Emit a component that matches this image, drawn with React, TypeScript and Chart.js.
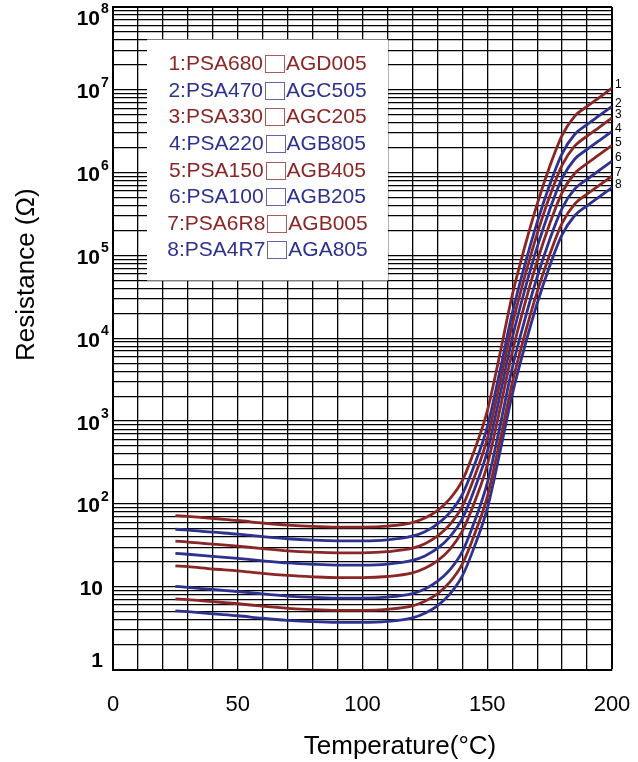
import React, { useEffect, useRef } from "react";
import { Chart, registerables } from "chart.js";

Chart.register(...registerables);

// ---------- data ----------
const temperatures = [25, 30, 40, 50, 60, 70, 80, 90, 100, 110, 120, 125, 130, 135, 140, 145, 150, 155, 160, 165, 170, 175, 180, 185, 190, 195, 200];

const r1 = [72.4, 70.8, 66.7, 63.1, 58.9, 55.6, 53.5, 52.5, 52.5, 54.0, 59.6, 67.6, 83.2, 115, 191, 457, 1320, 6310, 33100, 126000, 417000, 1180000, 2820000, 4790000, 6310000, 8130000, 10500000];
const r2 = [49.5, 48.4, 45.6, 43.2, 40.3, 38.0, 36.6, 35.9, 35.9, 36.9, 40.8, 46.2, 56.9, 78.5, 130, 303, 846, 3930, 20000, 75900, 251000, 709000, 1700000, 2890000, 3810000, 4900000, 6310000];
const r3 = [35.5, 34.7, 32.7, 30.9, 28.9, 27.2, 26.2, 25.7, 25.7, 26.5, 29.2, 33.1, 40.8, 56.3, 93.3, 218, 609, 2830, 14500, 55000, 182000, 514000, 1230000, 2090000, 2760000, 3550000, 4580000];
const r4 = [25.3, 24.7, 23.3, 22.0, 20.6, 19.4, 18.7, 18.3, 18.3, 18.8, 20.8, 23.6, 29.0, 40.1, 66.5, 154, 428, 1980, 10000, 38000, 126000, 355000, 851000, 1450000, 1910000, 2460000, 3160000];
const r5 = [17.9, 17.5, 16.4, 15.6, 14.5, 13.7, 13.2, 12.9, 12.9, 13.3, 14.7, 16.7, 20.5, 28.3, 47.0, 107, 295, 1350, 6760, 25700, 85100, 240000, 575000, 976000, 1290000, 1660000, 2140000];
const r6 = [10.1, 9.84, 9.27, 8.77, 8.19, 7.73, 7.44, 7.30, 7.30, 7.51, 8.28, 9.40, 11.6, 16.0, 26.5, 62.6, 178, 844, 4360, 16600, 55000, 155000, 371000, 631000, 832000, 1070000, 1380000];
const r7 = [7.16, 7.00, 6.60, 6.24, 5.83, 5.50, 5.29, 5.19, 5.19, 5.34, 5.89, 6.69, 8.23, 11.4, 18.8, 43.7, 122, 567, 2880, 11000, 36300, 102000, 245000, 417000, 550000, 708000, 912000];
const r8 = [5.13, 5.01, 4.72, 4.47, 4.17, 3.94, 3.79, 3.72, 3.72, 3.82, 4.22, 4.79, 5.89, 8.13, 13.5, 31.4, 88.0, 410, 2090, 7940, 26300, 74100, 178000, 302000, 398000, 513000, 661000];

const seriesValues = [r1, r2, r3, r4, r5, r6, r7, r8];

const seriesNames = [
  "1:PSA680□AGD005",
  "2:PSA470□AGC505",
  "3:PSA330□AGC205",
  "4:PSA220□AGB805",
  "5:PSA150□AGB405",
  "6:PSA100□AGB205",
  "7:PSA6R8□AGB005",
  "8:PSA4R7□AGA805",
];
const curveNumbers = ["1", "2", "3", "4", "5", "6", "7", "8"];

const xTickValues = [0, 50, 100, 150, 200];
const xTickLabels = ["0", "50", "100", "150", "200"];
const yDecadeExponents = [0, 1, 2, 3, 4, 5, 6, 7, 8];
const yMinorMultipliers = [1, 2, 3, 4, 5, 6, 7, 8, 9];

const xTitle = "Temperature(°C)";
const yTitle = "Resistance (Ω)";

// ---------- styles ----------
const RED = "#8a2626";
const BLUE = "#2e3190";
const FONT = '"Liberation Sans", Arial, Helvetica, sans-serif';

const yGridValues: number[] = [];
yDecadeExponents.forEach((e) => {
  if (e === yDecadeExponents[yDecadeExponents.length - 1]) {
    yGridValues.push(Math.pow(10, e));
  } else {
    yMinorMultipliers.forEach((m) => yGridValues.push(m * Math.pow(10, e)));
  }
});

const overlayPlugin = {
  id: "overlay",
  afterDraw(chart: any) {
    const { ctx, chartArea: a, scales } = chart;
    const ys = scales.y;
    ctx.save();

    // legend box
    const bx = a.left + 34;
    const by = a.top + 32.5;
    const bw = 241;
    const bh = 241;
    ctx.fillStyle = "#ffffff";
    ctx.fillRect(bx, by, bw, bh);
    ctx.font = `21px ${FONT}`;
    ctx.textBaseline = "alphabetic";
    ctx.textAlign = "left";
    const cx = bx + bw / 2;
    seriesNames.forEach((name, i) => {
      const color = i % 2 === 0 ? RED : BLUE;
      const [pre, post] = name.split("□");
      const wPre = ctx.measureText(pre).width;
      const wPost = ctx.measureText(post).width;
      const boxW = 19;
      const gap = 2;
      const total = wPre + gap + boxW + gap + wPost;
      const cy = by + 23.3 + i * 26.55;
      let x = cx - total / 2;
      ctx.fillStyle = color;
      ctx.fillText(pre, x, cy + 7.5);
      x += wPre + gap;
      ctx.strokeStyle = color;
      ctx.globalAlpha = 0.75;
      ctx.lineWidth = 1;
      ctx.strokeRect(Math.round(x) + 0.5, Math.round(cy - 7.5) + 0.5, boxW, 17);
      ctx.globalAlpha = 1;
      x += boxW + gap;
      ctx.fillText(post, x, cy + 7.5);
    });

    // y tick labels (10 with superscript exponent)
    ctx.fillStyle = "#000";
    yDecadeExponents.forEach((e) => {
      let y = ys.getPixelForValue(Math.pow(10, e)) + 1;
      y = Math.min(Math.max(y, a.top + 10), a.bottom - 10);
      const base = y + 7.5;
      ctx.font = `bold 21px ${FONT}`;
      if (e === 0) {
        ctx.textAlign = "right";
        ctx.fillText("1", a.left - 10, base);
      } else if (e === 1) {
        ctx.textAlign = "right";
        ctx.fillText("10", a.left - 10, base);
      } else {
        ctx.textAlign = "right";
        ctx.fillText("10", a.left - 13, base);
        ctx.font = `bold 14px ${FONT}`;
        ctx.textAlign = "left";
        ctx.fillText(String(e), a.left - 12, base - 11.5);
      }
    });

    // curve numbers at right end
    ctx.font = `12px ${FONT}`;
    ctx.textAlign = "left";
    ctx.textBaseline = "middle";
    ctx.fillStyle = "#000";
    curveNumbers.forEach((n, i) => {
      const meta = chart.getDatasetMeta(i);
      const last = meta.data[meta.data.length - 1];
      ctx.fillText(n, a.right + 3, last.y - 3);
    });

    // axis titles
    ctx.font = `26px ${FONT}`;
    ctx.textBaseline = "alphabetic";
    ctx.textAlign = "center";
    ctx.fillText(xTitle, 400, 754);

    ctx.translate(34, 361);
    ctx.rotate(-Math.PI / 2);
    ctx.textAlign = "left";
    ctx.fillText(yTitle, 0, 0);

    ctx.restore();
  },
};

export default function App() {
  const ref = useRef<HTMLCanvasElement | null>(null);

  useEffect(() => {
    if (!ref.current) return;
    const datasets = seriesValues.map((vals, i) => ({
      label: seriesNames[i],
      data: temperatures.map((t, j) => ({ x: t, y: vals[j] })),
      borderColor: i % 2 === 0 ? RED : BLUE,
      backgroundColor: i % 2 === 0 ? RED : BLUE,
      borderWidth: 2.8,
      pointRadius: 0,
      fill: false,
      cubicInterpolationMode: "monotone" as const,
    }));

    const chart = new Chart(ref.current, {
      type: "line",
      data: { datasets },
      options: {
        animation: false,
        responsive: false,
        layout: { padding: { left: 113, right: 26, top: 7, bottom: 44 } },
        plugins: {
          legend: { display: false },
          tooltip: { enabled: false },
        },
        scales: {
          x: {
            type: "linear",
            min: 0,
            max: 200,
            ticks: {
              stepSize: 10,
              autoSkip: false,
              maxRotation: 0,
              padding: 0,
              color: "#000",
              font: { family: FONT, size: 22 },
              callback: (v: any) => {
                const idx = xTickValues.indexOf(Number(v));
                return idx >= 0 ? xTickLabels[idx] : "";
              },
            },
            grid: {
              color: "#000",
              lineWidth: (c: any) => (c.tick && c.tick.value === 200 ? 2 : 1.3),
              drawTicks: true,
              tickLength: 22,
              tickColor: "rgba(0,0,0,0)",
            },
            border: { color: "#000", width: 2 },
          },
          y: {
            type: "logarithmic",
            min: 1,
            max: 1e8,
            afterBuildTicks: (scale: any) => {
              scale.ticks = yGridValues.map((v) => ({ value: v }));
            },
            ticks: { display: false, autoSkip: false },
            grid: {
              color: "#000",
              lineWidth: (c: any) => (c.tick && c.tick.value === 1e8 ? 2 : 1.3),
              drawTicks: false,
            },
            border: { color: "#000", width: 2 },
          },
        },
      },
      plugins: [overlayPlugin],
    });
    return () => chart.destroy();
  }, []);

  return (
    <div style={{ position: "fixed", left: 0, top: 0, width: 638, height: 762, background: "#fff" }}>
      <canvas ref={ref} width={638} height={762} style={{ display: "block" }} />
    </div>
  );
}
